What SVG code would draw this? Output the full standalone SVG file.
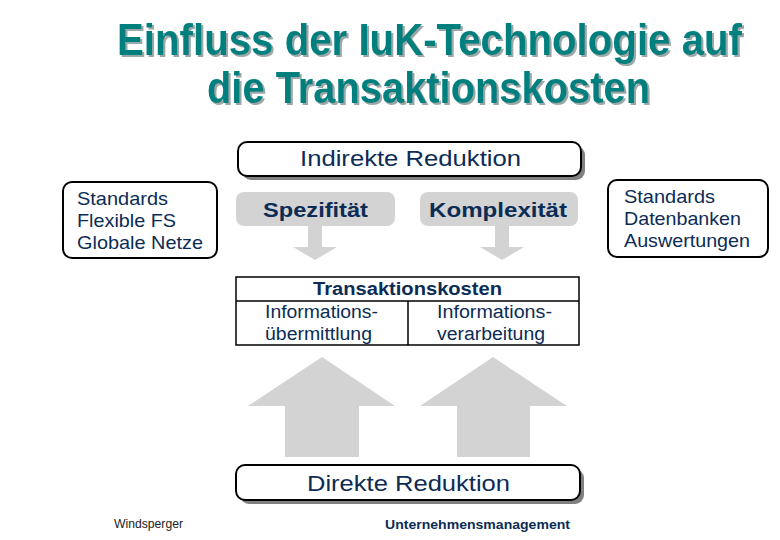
<svg xmlns="http://www.w3.org/2000/svg" width="780" height="540" viewBox="0 0 780 540">
<defs>
<filter id="ts" x="-5%" y="-20%" width="110%" height="140%">
<feDropShadow dx="2" dy="2" stdDeviation="0.6" flood-color="#9aa8a8" flood-opacity="1"/>
</filter>
</defs>
<style>
.t{font-family:"Liberation Sans",Arial,sans-serif;fill:#0c2c55}
.title{font-family:"Liberation Sans",Arial,sans-serif;font-weight:bold;font-size:34px;fill:#007f7f}
.b{font-weight:bold}
.frame{fill:#fff;stroke:#000;stroke-width:2}
.pill{fill:#d3d3d3}
.arr{fill:#d3d3d3}
.shadow{fill:#808080}
</style>
<rect width="780" height="540" fill="#fff"/>
<g id="title" filter="url(#ts)">
<text class="title" transform="translate(117,55) scale(1,1.3)" x="0" y="0" textLength="625" lengthAdjust="spacingAndGlyphs">Einfluss der IuK-Technologie auf</text>
<text class="title" transform="translate(207,103) scale(1,1.3)" x="0" y="0" textLength="443" lengthAdjust="spacingAndGlyphs">die Transaktionskosten</text>
</g>
<g id="indirekte">
<rect class="shadow" x="242" y="146" width="343" height="34" rx="9"/>
<rect class="frame" x="238" y="142" width="343" height="34" rx="9"/>
<text class="t" x="300" y="166" font-size="22" textLength="221" lengthAdjust="spacingAndGlyphs">Indirekte Reduktion</text>
</g>
<g id="left-box">
<rect class="frame" x="63" y="182" width="154" height="76" rx="9"/>
<text class="t" font-size="19" x="77" y="205" textLength="91" lengthAdjust="spacingAndGlyphs">Standards</text>
<text class="t" font-size="19" x="77" y="227" textLength="99" lengthAdjust="spacingAndGlyphs">Flexible FS</text>
<text class="t" font-size="19" x="77" y="249" textLength="126" lengthAdjust="spacingAndGlyphs">Globale Netze</text>
</g>
<g id="right-box">
<rect class="frame" x="608" y="180" width="160" height="77" rx="9"/>
<text class="t" font-size="19" x="624" y="203" textLength="91" lengthAdjust="spacingAndGlyphs">Standards</text>
<text class="t" font-size="19" x="624" y="225" textLength="117" lengthAdjust="spacingAndGlyphs">Datenbanken</text>
<text class="t" font-size="19" x="624" y="247" textLength="126" lengthAdjust="spacingAndGlyphs">Auswertungen</text>
</g>
<g id="spezifitaet">
<rect class="pill" x="236" y="192" width="159" height="34" rx="8"/>
<text class="t b" font-size="20" x="263" y="217" textLength="105" lengthAdjust="spacingAndGlyphs">Spezifität</text>
</g>
<g id="komplexitaet">
<rect class="pill" x="420" y="192" width="158" height="34" rx="8"/>
<text class="t b" font-size="20" x="429" y="217" textLength="138" lengthAdjust="spacingAndGlyphs">Komplexität</text>
</g>
<g id="transaktionskosten">
<rect x="236" y="277" width="343" height="68" fill="#fff" stroke="#000" stroke-width="1.5"/>
<line x1="236" y1="301" x2="579" y2="301" stroke="#000" stroke-width="1.5"/>
<line x1="408" y1="301" x2="408" y2="345" stroke="#000" stroke-width="1.5"/>
<text class="t b" font-size="18" x="313" y="295" textLength="189" lengthAdjust="spacingAndGlyphs">Transaktionskosten</text>
<text class="t" font-size="18" x="265" y="318" textLength="113" lengthAdjust="spacingAndGlyphs">Informations-</text>
<text class="t" font-size="18" x="265" y="340" textLength="107" lengthAdjust="spacingAndGlyphs">übermittlung</text>
<text class="t" font-size="18" x="437" y="318" textLength="115" lengthAdjust="spacingAndGlyphs">Informations-</text>
<text class="t" font-size="18" x="437" y="340" textLength="108" lengthAdjust="spacingAndGlyphs">verarbeitung</text>
</g>
<g id="direkte">
<rect class="shadow" x="240" y="469" width="344" height="35" rx="9"/>
<rect class="frame" x="236" y="465" width="344" height="35" rx="9"/>
<text class="t" font-size="22" x="307" y="491" textLength="203" lengthAdjust="spacingAndGlyphs">Direkte Reduktion</text>
</g>
<g id="connectors">
<polygon class="arr" points="308,226 322,226 322,247 337,247 315,260 293,247 308,247"/>
<polygon class="arr" points="495,226 509,226 509,247 524,247 502,260 480,247 495,247"/>
<polygon class="arr" points="322,357 395,406 359,406 359,457 285,457 285,406 248,406"/>
<polygon class="arr" points="493,357 567,406 530,406 530,457 457,457 457,406 420,406"/>
</g>
<g id="footer">
<text x="114" y="528" font-family="Liberation Sans,Arial,sans-serif" font-size="12" fill="#222" textLength="69" lengthAdjust="spacingAndGlyphs">Windsperger</text>
<text class="t b" x="385" y="529" font-size="13" textLength="185" lengthAdjust="spacingAndGlyphs">Unternehmensmanagement</text>
</g>
</svg>
